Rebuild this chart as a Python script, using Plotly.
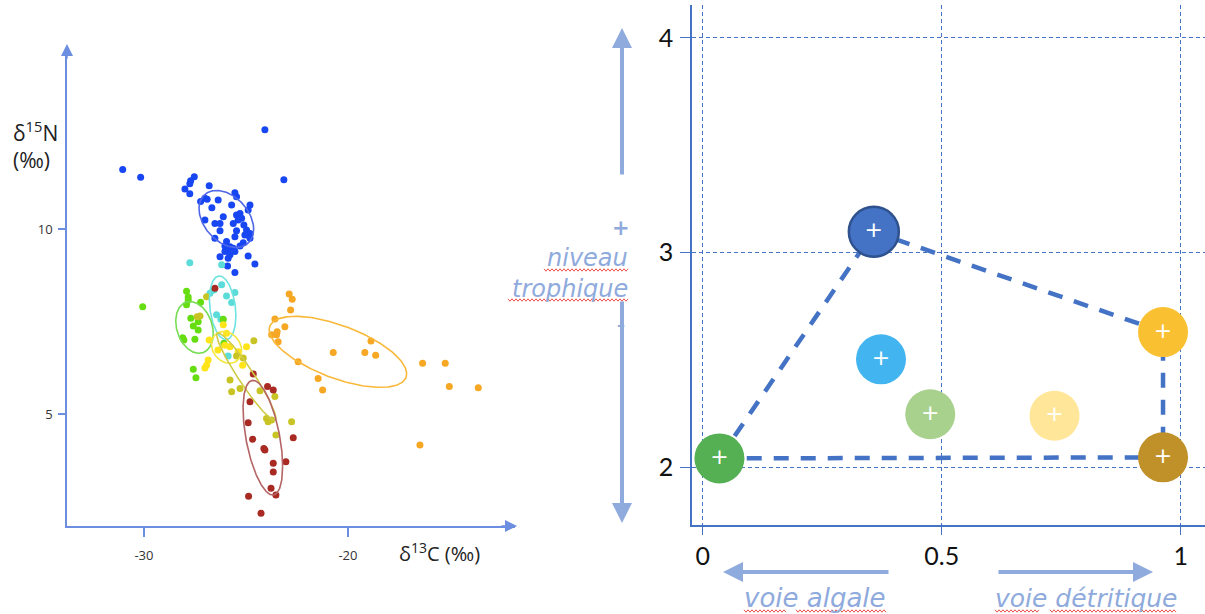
import numpy as np
import plotly.graph_objects as go

W, H = 1205, 614

# ---------------- Left panel: δ13C / δ15N of individuals ----------------
blue_c13 = [-24.07, -31.04, -30.16, -23.14, -27.53, -27.71, -27.75, -27.99, -27.75, -26.80,
            -27.22, -27.01, -26.90, -26.36, -25.54, -25.46, -25.70, -24.80, -24.89, -27.01,
            -26.11, -26.52, -26.27, -25.46, -25.29, -25.38, -25.21, -25.62, -26.27, -24.97,
            -24.80, -25.05, -25.46, -26.52, -25.95, -25.54, -24.80, -25.13, -25.78, -25.62,
            -25.87, -25.54, -26.03, -25.78, -26.27, -25.87, -24.89, -25.90, -24.56, -25.54,
            -26.03, -25.29, -25.10, -26.67]
blue_n15 = [12.68, 11.61, 11.40, 11.33, 11.41, 11.30, 11.22, 11.08, 10.95, 11.17,
            10.74, 10.83, 10.80, 10.78, 10.98, 10.87, 10.65, 10.65, 10.51, 10.24,
            10.33, 10.15, 10.15, 10.38, 10.42, 10.24, 10.29, 10.15, 9.95, 9.97,
            9.88, 9.84, 9.95, 9.75, 9.66, 9.79, 9.75, 9.63, 9.52, 9.48,
            9.43, 9.39, 9.39, 9.30, 9.25, 9.21, 9.27, 9.00, 9.05, 8.82,
            9.54, 9.54, 10.11, 10.57]

cyan_c13 = [-27.75, -26.19, -26.76, -26.19, -25.95, -25.54, -25.70, -26.44, -26.23, -25.87, -26.57]
cyan_n15 = [9.09, 9.03, 8.26, 8.49, 8.19, 8.28, 8.01, 7.68, 7.56, 6.57, 8.35]

green_c13 = [-30.06, -27.91, -27.83, -27.83, -27.91, -27.22, -27.34, -27.58, -27.34, -28.10,
             -28.04, -27.50, -26.11, -26.08, -27.58, -27.45, -27.70]
green_n15 = [7.90, 8.32, 8.16, 8.08, 7.95, 8.02, 7.49, 7.38, 7.27, 7.06,
             7.00, 7.02, 7.56, 6.91, 6.21, 5.98, 7.59]

yellow_c13 = [-26.80, -26.11, -25.95, -25.78, -25.38, -24.97, -25.16, -26.85, -26.93, -27.01, -26.03, -26.37]
yellow_n15 = [7.00, 7.41, 7.18, 6.82, 6.68, 6.82, 6.32, 6.46, 6.32, 6.24, 6.86, 6.73]

olive_c13 = [-26.93, -27.25, -27.39, -25.46, -25.13, -24.61, -25.78, -25.70, -25.29, -24.31,
             -23.58, -23.99, -23.91, -23.74, -23.53, -22.76]
olive_n15 = [8.17, 7.65, 7.63, 6.57, 6.51, 6.98, 5.92, 5.60, 5.69, 5.63,
             5.47, 4.88, 4.79, 4.84, 4.43, 4.79]

red_c13 = [-26.52, -24.64, -23.94, -23.66, -24.80, -24.89, -24.67, -24.12, -24.07, -23.66,
           -23.04, -22.68, -23.66, -23.77, -23.53, -24.87, -24.26]
red_n15 = [8.40, 6.08, 5.74, 5.65, 5.33, 4.76, 4.32, 4.07, 4.03, 3.67,
           3.71, 4.36, 3.43, 2.99, 2.81, 2.78, 2.32]

orange_c13 = [-22.88, -22.73, -22.81, -23.58, -23.09, -23.47, -23.50, -23.74, -23.42, -22.44,
              -20.72, -19.17, -18.87, -18.64, -21.46, -21.24, -16.34, -15.23, -15.03, -13.61, -16.47]
orange_n15 = [8.24, 8.10, 7.81, 7.57, 7.36, 7.22, 7.14, 7.14, 6.95, 6.41,
              6.66, 6.66, 6.97, 6.59, 5.96, 5.65, 6.37, 6.37, 5.74, 5.71, 4.16]

group_points = [
    (blue_c13, blue_n15, "#1746F2"),
    (cyan_c13, cyan_n15, "#5CDCD8"),
    (green_c13, green_n15, "#66DD11"),
    (yellow_c13, yellow_n15, "#FFE41A"),
    (olive_c13, olive_n15, "#C9C425"),
    (red_c13, red_n15, "#A82A22"),
    (orange_c13, orange_n15, "#F6A724"),
]

# Ellipse summaries: centre, half extent on each axis, correlation
ell_cx = [-25.96, -26.14, -27.52, -25.95, -24.98, -24.17, -20.49]
ell_cy = [10.27, 7.87, 7.34, 6.80, 6.01, 4.36, 6.68]
ell_sx = [1.34, 0.65, 0.92, 0.74, 1.45, 0.97, 3.37]
ell_sy = [0.77, 0.86, 0.70, 0.43, 1.18, 1.55, 0.96]
ell_r = [-0.36, -0.25, -0.24, -0.20, -0.95, -0.50, -0.62]
ell_colors = ["#5068E8", "#6EE3E0", "#77DD55", "#F5E63C", "#CFCB45", "#B46464", "#F9B83A"]

# ---------------- Right panel: trophic position vs. pathway ----------------
tp_pathway = [0.035, 0.358, 0.373, 0.476, 0.736, 0.963, 0.963]
tp_level = [2.040, 3.097, 2.502, 2.246, 2.239, 2.629, 2.045]
tp_colors = ["#54B052", "#4472C4", "#42B4EF", "#A9D18E", "#FFE699", "#F9C131", "#BF9128"]
hull_order = [0, 1, 5, 6, 0]

AXIS_BLUE = "#6C8EE0"
ARROW_BLUE = "#8FAADC"
DARK_BLUE = "#4472C4"
WORD_FONT = "DejaVu Sans"


def px(x):
    return x / W


def py(y):
    return 1 - y / H


fig = go.Figure()

# scatter groups
for xs, ys, col in group_points:
    fig.add_trace(go.Scatter(x=xs, y=ys, mode="markers",
                             marker=dict(color=col, size=7, line=dict(width=0)),
                             xaxis="x", yaxis="y", showlegend=False, hoverinfo="skip"))

# ellipses
t = np.linspace(0, 2 * np.pi, 240)
for cx, cy, sx, sy, r, col in zip(ell_cx, ell_cy, ell_sx, ell_sy, ell_r, ell_colors):
    phi = np.arccos(r)
    fig.add_trace(go.Scatter(x=cx + sx * np.cos(t), y=cy + sy * np.cos(t + phi),
                             mode="lines", line=dict(color=col, width=1.6),
                             xaxis="x", yaxis="y", showlegend=False, hoverinfo="skip"))

# convex outline of the food web
fig.add_trace(go.Scatter(x=[tp_pathway[i] for i in hull_order],
                         y=[tp_level[i] for i in hull_order],
                         mode="lines", line=dict(color=DARK_BLUE, width=4.5, dash="15px,12px"),
                         xaxis="x2", yaxis="y2", showlegend=False, hoverinfo="skip"))

# group centroids
fig.add_trace(go.Scatter(x=tp_pathway, y=tp_level, mode="markers+text",
                         marker=dict(color=tp_colors, size=50,
                                     line=dict(color=["rgba(0,0,0,0)", "#2F528F"] + ["rgba(0,0,0,0)"] * 5,
                                               width=[0, 2.5, 0, 0, 0, 0, 0])),
                         text=["+"] * len(tp_pathway), textposition="middle center",
                         textfont=dict(color="white", size=22, family="DejaVu Sans"),
                         xaxis="x2", yaxis="y2", showlegend=False, hoverinfo="skip"))

fig.update_layout(
    width=W, height=H,
    margin=dict(l=0, r=0, t=0, b=0),
    paper_bgcolor="white", plot_bgcolor="rgba(0,0,0,0)",
    xaxis=dict(domain=[px(67), px(515)], range=[-33.77, -11.81],
               tickvals=[-30, -20], ticktext=["-30", "-20"],
               showgrid=False, zeroline=False, showline=True, linecolor=AXIS_BLUE, linewidth=1.5,
               ticks="outside", ticklen=9, tickcolor=AXIS_BLUE, tickwidth=1.5,
               ticklabelstandoff=8,
               tickfont=dict(family="Open Sans", size=13, color="#333333"),
               anchor="y"),
    yaxis=dict(domain=[py(526), py(48)], range=[1.973, 14.89],
               tickvals=[5, 10], ticktext=["5", "10"],
               showgrid=False, zeroline=False, showline=True, linecolor=AXIS_BLUE, linewidth=1.5,
               ticks="outside", ticklen=7, tickcolor=AXIS_BLUE, tickwidth=1.5,
               ticklabelstandoff=3,
               tickfont=dict(family="Open Sans", size=13, color="#333333"),
               anchor="x"),
    xaxis2=dict(domain=[px(692), 1.0], range=[-0.0224, 1.0508],
                tickvals=[0, 0.5, 1], ticktext=["0", "0.5", "1"],
                showgrid=True, gridcolor=DARK_BLUE, gridwidth=1, griddash="4px,3px",
                zeroline=False, showline=True, linecolor=DARK_BLUE, linewidth=1.5,
                ticks="outside", ticklen=8, tickcolor=DARK_BLUE, tickwidth=1.2,
                ticklabelstandoff=0,
                tickfont=dict(family="Lato", size=25, color="#111111"),
                anchor="y2"),
    yaxis2=dict(domain=[py(525), py(5)], range=[1.7296, 4.1538],
                tickvals=[2, 3, 4], ticktext=["2", "3", "4"],
                showgrid=True, gridcolor=DARK_BLUE, gridwidth=1, griddash="4px,3px",
                zeroline=False, showline=True, linecolor=DARK_BLUE, linewidth=1.5,
                ticks="outside", ticklen=10, tickcolor=DARK_BLUE, tickwidth=1.2,
                ticklabelstandoff=2,
                tickfont=dict(family="Lato", size=25, color="#111111"),
                anchor="x2"),
)

annotations = []


def arrow(x_head, y_head, x_tail, y_tail, color, width, size):
    annotations.append(dict(xref="paper", yref="paper", x=px(x_head), y=py(y_head),
                            axref="pixel", ayref="pixel",
                            ax=x_tail - x_head, ay=y_tail - y_head,
                            text="", showarrow=True, arrowhead=2, arrowsize=size,
                            arrowwidth=width, arrowcolor=color, standoff=0, startstandoff=0))


# axis arrow tips of the left panel
arrow(67, 44, 67, 60, AXIS_BLUE, 1.5, 1.6)
arrow(517, 526, 500, 526, AXIS_BLUE, 1.5, 1.6)

# trophic level arrows
arrow(622, 28, 622, 176, ARROW_BLUE, 4, 1.0)
arrow(622, 523, 622, 300, ARROW_BLUE, 4, 1.0)
# pathway arrows
arrow(723, 572, 890, 572, ARROW_BLUE, 4, 1.0)
arrow(1153, 572, 997, 572, ARROW_BLUE, 4, 1.0)


def label(text, x, y, size, color, family, xanchor="center", yanchor="middle"):
    annotations.append(dict(xref="paper", yref="paper", x=px(x), y=py(y), text=text,
                            showarrow=False, xanchor=xanchor, yanchor=yanchor,
                            font=dict(size=size, color=color, family=family)))


label("δ<sup>15</sup>N", 11, 131, 21, "#222222", "Open Sans", xanchor="left")
label("(‰)", 11, 160, 21, "#222222", "Open Sans", xanchor="left")
label("δ<sup>13</sup>C (‰)", 397, 552, 20, "#222222", "Open Sans", xanchor="left")

label("<b>+</b>", 621, 228, 21, ARROW_BLUE, WORD_FONT)
label("<i>niveau</i>", 630, 258, 24, ARROW_BLUE, WORD_FONT, xanchor="right")
label("<i>trophique</i>", 630, 289, 24, ARROW_BLUE, WORD_FONT, xanchor="right")
label("<b>–</b>", 621, 324, 16, ARROW_BLUE, WORD_FONT)
label("<i>voie algale</i>", 815, 598, 26, ARROW_BLUE, WORD_FONT)
label("<i>voie détritique</i>", 1086, 598, 25, ARROW_BLUE, WORD_FONT)

fig.update_layout(annotations=annotations)


# spell-check squiggles under the French words
def squiggle(x0, x1, y):
    pts = []
    x = x0
    k = 0
    while x <= x1:
        yy = y + (1.2 if k % 2 else -1.2)
        pts.append(f"{px(x):.5f},{py(yy):.5f}")
        x += 2
        k += 1
    return dict(type="path", xref="paper", yref="paper",
                path="M " + " L ".join(pts), line=dict(color="#E8514A", width=1))


shapes = [squiggle(544, 629, 270), squiggle(508, 629, 300),
          squiggle(744, 787, 611), squiggle(796, 887, 611),
          squiggle(995, 1040, 611), squiggle(1050, 1177, 611)]
fig.update_layout(shapes=shapes)

fig.write_html("out.html")
